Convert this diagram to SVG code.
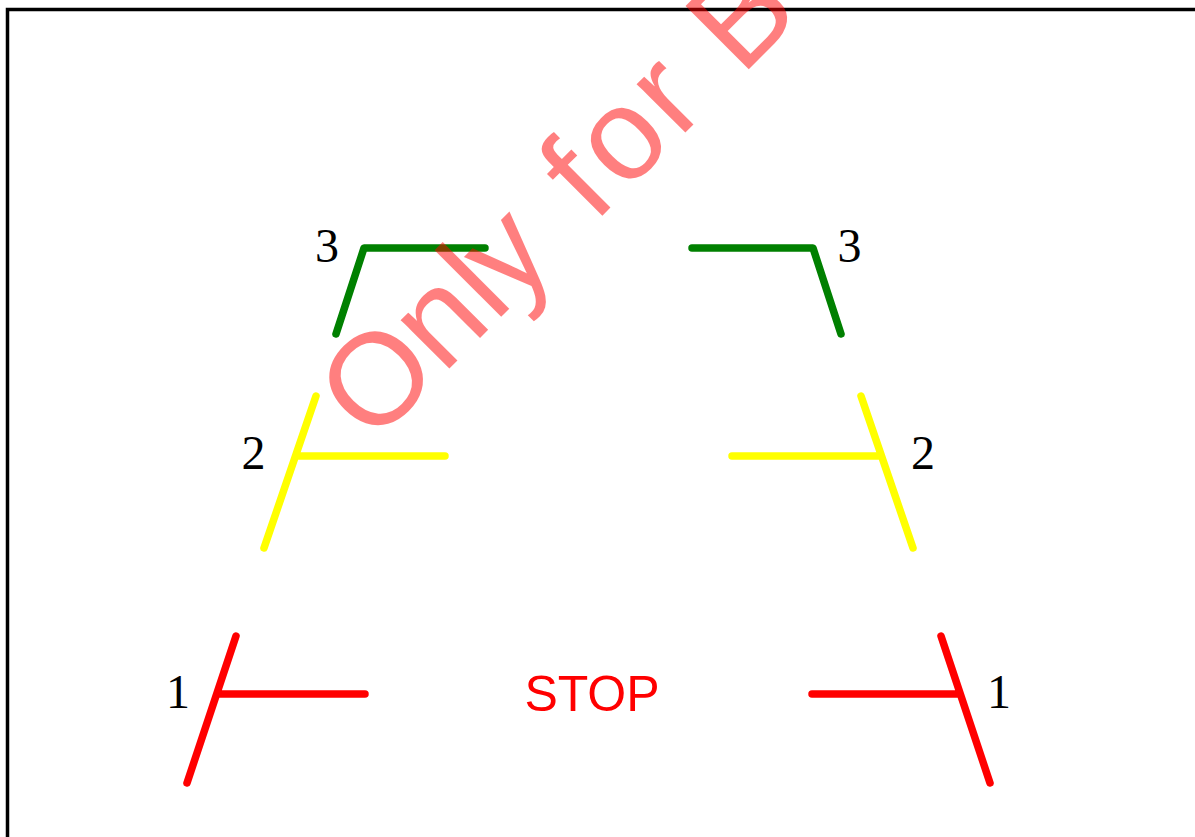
<svg xmlns="http://www.w3.org/2000/svg" width="1195" height="837" viewBox="0 0 1195 837">
  <style>
    .ln { fill: none; stroke-width: 7.5; stroke-linecap: round; stroke-linejoin: round; }
    .red { stroke: #ff0000; }
    .yel { stroke: #ffff00; }
    .grn { stroke: #008000; }
    .lbl { font-family: "Liberation Serif", "DejaVu Serif", serif; font-size: 48px; fill: #000; text-anchor: middle; }
    .stop { font-family: "Liberation Sans", Arial, sans-serif; font-size: 50px; fill: #ff0000; text-anchor: middle; }
    .wm { font-family: "Liberation Sans", Arial, sans-serif; font-size: 130px; fill: #ff0000; fill-opacity: 0.5; }
  </style>
  <rect width="1195" height="837" fill="#ffffff"/>
  <g id="frame">
    <path d="M7.5,840 V9.5 H1200" fill="none" stroke="#000" stroke-width="3.5"/>
  </g>
  <g id="connectors">
    <g id="level1">
      <path class="ln red" d="M236,636 L187,783 M218,694 H365"/>
      <path class="ln red" d="M941,636 L990,783 M959,694 H812"/>
    </g>
    <g id="level2">
      <path class="ln yel" d="M316,396 L264,548 M298,456 H445"/>
      <path class="ln yel" d="M861,396 L913,548 M879,456 H732"/>
    </g>
    <g id="level3">
      <path class="ln grn" d="M336,334 L364,248 H485"/>
      <path class="ln grn" d="M841,334 L813,248 H692"/>
    </g>
  </g>
  <g id="labels">
    <text class="lbl" x="178" y="708">1</text>
    <text class="lbl" x="999" y="708">1</text>
    <text class="lbl" x="253.5" y="469">2</text>
    <text class="lbl" x="923" y="469">2</text>
    <text class="lbl" x="327" y="262">3</text>
    <text class="lbl" x="849.5" y="262">3</text>
    <text id="stop" class="stop" x="592" y="711">STOP</text>
  </g>
  <g id="watermark">
    <text class="wm" transform="rotate(-45)" x="-52 48 121.5 146 210 262 305 381.8 425 470" y="578.4">Only for B</text>
  </g>
</svg>
